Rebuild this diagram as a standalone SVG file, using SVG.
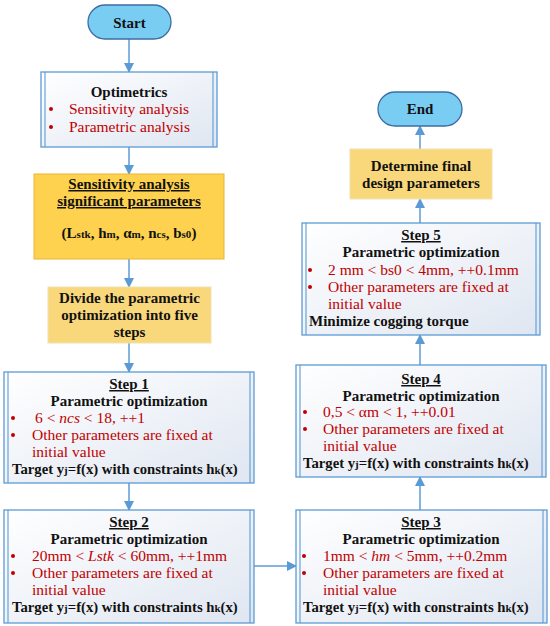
<svg xmlns="http://www.w3.org/2000/svg" width="550" height="626" viewBox="0 0 550 626">
<defs>
<linearGradient id="boxg" x1="0" y1="0" x2="1" y2="1">
<stop offset="0" stop-color="#ffffff"/>
<stop offset="1" stop-color="#dfe6f1"/>
</linearGradient>
<marker id="ah" markerWidth="10" markerHeight="10" refX="9" refY="5" orient="auto" markerUnits="userSpaceOnUse">
<path d="M0,0 L10,5 L0,10 Z" fill="#5b9bd5"/>
</marker>
<style>
.t{font-family:"Liberation Serif","Times New Roman",serif;}
.b{font-weight:bold;fill:#111;font-size:15px;}
.r{fill:#c00000;font-size:15.5px;}
.c{text-anchor:middle;}
.tg{font-size:14.7px;}
.proc{fill:url(#boxg);stroke:#5b9bd5;stroke-width:1.3;}
.inner{stroke:#5b9bd5;stroke-width:1.1;}
.term{fill:#79cdf3;stroke:#3d6da3;stroke-width:1.3;}
.gold{fill:#fed24f;stroke:#e9b437;stroke-width:1;}
.lgold{fill:#f9d87b;stroke:#f0e0b0;stroke-width:1;}
.conn{stroke:#5b9bd5;stroke-width:1.5;fill:none;marker-end:url(#ah);}
.s{font-size:11px;}
</style>
</defs>

<g id="connectors">
<line class="conn" x1="129" y1="39" x2="129" y2="72"/>
<line class="conn" x1="129" y1="147" x2="129" y2="174"/>
<line class="conn" x1="129" y1="259" x2="129" y2="287"/>
<line class="conn" x1="129" y1="343" x2="129" y2="372"/>
<line class="conn" x1="129" y1="483" x2="129" y2="510"/>
<line class="conn" x1="254" y1="566" x2="296" y2="566"/>
<line class="conn" x1="420" y1="510" x2="420" y2="477"/>
<line class="conn" x1="420" y1="365" x2="420" y2="335"/>
<line class="conn" x1="420" y1="223" x2="420" y2="199"/>
<line class="conn" x1="420" y1="149" x2="420" y2="126"/>
</g>

<g id="start">
<rect class="term" x="88" y="5" width="83" height="34" rx="17" ry="17"/>
<text class="t b c" x="129.5" y="27.5">Start</text>
</g>

<g id="optimetrics">
<rect class="proc" x="41" y="72" width="176" height="75"/>
<line class="inner" x1="45" y1="72" x2="45" y2="147"/>
<line class="inner" x1="213" y1="72" x2="213" y2="147"/>
<text class="t b c" x="129" y="97">Optimetrics</text>
<circle cx="51" cy="109" r="2" fill="#c00000"/>
<text class="t r" x="69" y="114">Sensitivity analysis</text>
<circle cx="51" cy="127" r="2" fill="#c00000"/>
<text class="t r" x="69" y="132">Parametric analysis</text>
</g>

<g id="sensitivity">
<rect class="gold" x="34" y="174" width="190" height="85"/>
<text class="t b c" x="129" y="189" text-decoration="underline">Sensitivity analysis</text>
<text class="t b c" x="129" y="206" text-decoration="underline">significant parameters</text>
<text class="t b c" x="129" y="238">(L<tspan class="s">stk</tspan>, h<tspan class="s">m</tspan>, α<tspan class="s">m</tspan>, n<tspan class="s">cs</tspan>, b<tspan class="s">s0</tspan>)</text>
</g>

<g id="divide">
<rect class="lgold" x="48" y="287" width="163" height="56"/>
<text class="t b c" x="129.5" y="303">Divide the parametric</text>
<text class="t b c" x="129.5" y="320">optimization into five</text>
<text class="t b c" x="129.5" y="337">steps</text>
</g>

<g id="step1">
<rect class="proc" x="4" y="372" width="250" height="111"/>
<line class="inner" x1="8" y1="372" x2="8" y2="483"/>
<line class="inner" x1="250" y1="372" x2="250" y2="483"/>
<text class="t b c" x="129" y="389" text-decoration="underline">Step 1</text>
<text class="t b c" x="129" y="406">Parametric optimization</text>
<circle cx="13" cy="418" r="2" fill="#c00000"/>
<text class="t r" x="35" y="423">6 &lt; <tspan font-style="italic">ncs</tspan> &lt; 18, ++1</text>
<circle cx="13" cy="435" r="2" fill="#c00000"/>
<text class="t r" x="32" y="440">Other parameters are fixed at</text>
<text class="t r" x="32" y="457">initial value</text>
<text class="t b tg" x="12" y="474">Target y<tspan class="s">j</tspan>=f(x) with constraints h<tspan class="s">k</tspan>(x)</text>
</g>

<g id="step2">
<rect class="proc" x="4" y="510" width="250" height="113"/>
<line class="inner" x1="8" y1="510" x2="8" y2="623"/>
<line class="inner" x1="250" y1="510" x2="250" y2="623"/>
<text class="t b c" x="129" y="527" text-decoration="underline">Step 2</text>
<text class="t b c" x="129" y="544">Parametric optimization</text>
<circle cx="13" cy="556" r="2" fill="#c00000"/>
<text class="t r" x="32" y="561">20mm &lt; <tspan font-style="italic">Lstk</tspan> &lt; 60mm, ++1mm</text>
<circle cx="13" cy="573" r="2" fill="#c00000"/>
<text class="t r" x="32" y="578">Other parameters are fixed at</text>
<text class="t r" x="32" y="595">initial value</text>
<text class="t b tg" x="12" y="612">Target y<tspan class="s">j</tspan>=f(x) with constraints h<tspan class="s">k</tspan>(x)</text>
</g>

<g id="step3">
<rect class="proc" x="296" y="510" width="251" height="113"/>
<line class="inner" x1="300" y1="510" x2="300" y2="623"/>
<line class="inner" x1="543" y1="510" x2="543" y2="623"/>
<text class="t b c" x="421" y="527" text-decoration="underline">Step 3</text>
<text class="t b c" x="421" y="544">Parametric optimization</text>
<circle cx="304" cy="556" r="2" fill="#c00000"/>
<text class="t r" x="323" y="561">1mm &lt; <tspan font-style="italic">hm</tspan> &lt; 5mm, ++0.2mm</text>
<circle cx="304" cy="573" r="2" fill="#c00000"/>
<text class="t r" x="323" y="578">Other parameters are fixed at</text>
<text class="t r" x="323" y="595">initial value</text>
<text class="t b tg" x="303" y="612">Target y<tspan class="s">j</tspan>=f(x) with constraints h<tspan class="s">k</tspan>(x)</text>
</g>

<g id="step4">
<rect class="proc" x="296" y="365" width="250" height="112"/>
<line class="inner" x1="300" y1="365" x2="300" y2="477"/>
<line class="inner" x1="542" y1="365" x2="542" y2="477"/>
<text class="t b c" x="421" y="384" text-decoration="underline">Step 4</text>
<text class="t b c" x="421" y="401">Parametric optimization</text>
<circle cx="305" cy="412" r="2" fill="#c00000"/>
<text class="t r" x="323" y="417">0,5 &lt; αm &lt; 1, ++0.01</text>
<circle cx="305" cy="429" r="2" fill="#c00000"/>
<text class="t r" x="323" y="434">Other parameters are fixed at</text>
<text class="t r" x="323" y="451">initial value</text>
<text class="t b tg" x="303" y="468">Target y<tspan class="s">j</tspan>=f(x) with constraints h<tspan class="s">k</tspan>(x)</text>
</g>

<g id="step5">
<rect class="proc" x="302" y="223" width="238" height="112"/>
<line class="inner" x1="306" y1="223" x2="306" y2="335"/>
<line class="inner" x1="536" y1="223" x2="536" y2="335"/>
<text class="t b c" x="421" y="240" text-decoration="underline">Step 5</text>
<text class="t b c" x="421" y="257">Parametric optimization</text>
<circle cx="310" cy="270" r="2" fill="#c00000"/>
<text class="t r" x="328" y="275">2 mm &lt; bs0 &lt; 4mm, ++0.1mm</text>
<circle cx="310" cy="287" r="2" fill="#c00000"/>
<text class="t r" x="328" y="292">Other parameters are fixed at</text>
<text class="t r" x="328" y="309">initial value</text>
<text class="t b" x="309" y="326">Minimize cogging torque</text>
</g>

<g id="determine">
<rect class="lgold" x="350" y="149" width="142" height="50"/>
<text class="t b c" x="421" y="171">Determine final</text>
<text class="t b c" x="421" y="188">design parameters</text>
</g>

<g id="end">
<rect class="term" x="378" y="92" width="84" height="34" rx="17" ry="17"/>
<text class="t b c" x="420" y="114">End</text>
</g>
</svg>
